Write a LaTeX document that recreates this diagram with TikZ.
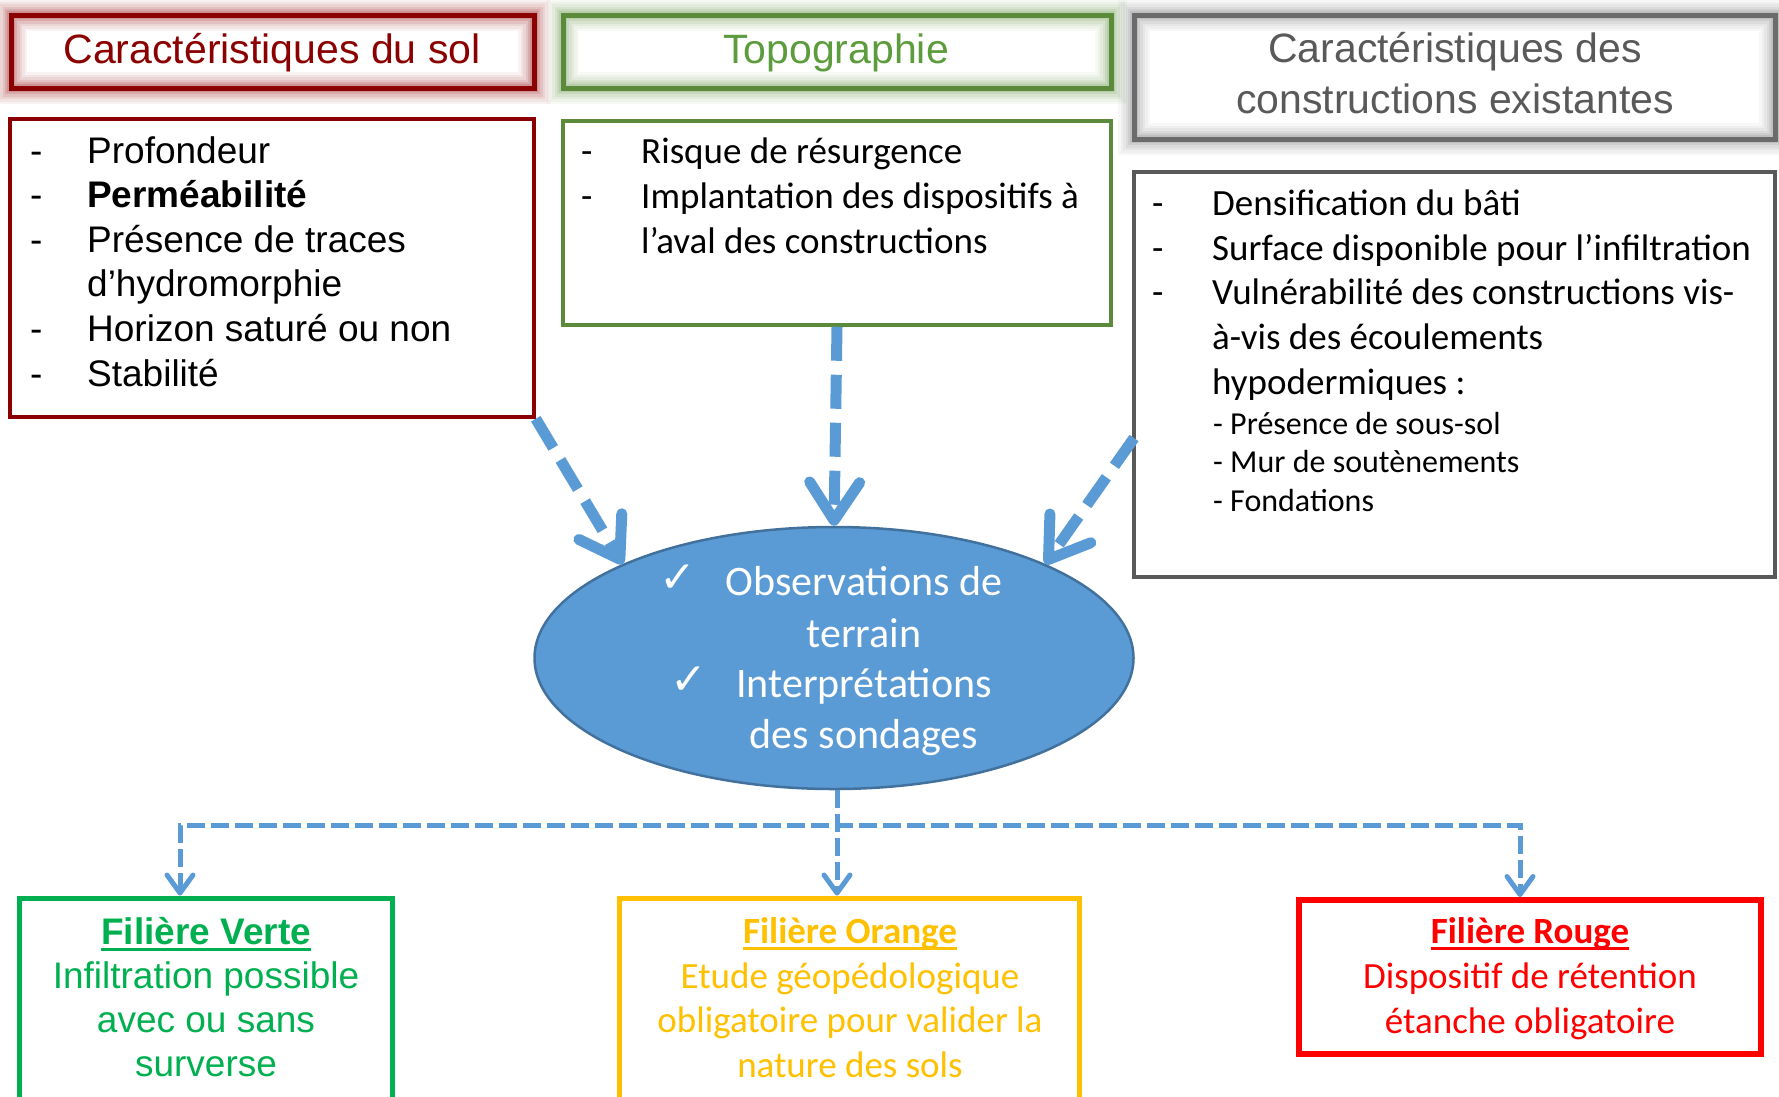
\documentclass[tikz,border=0pt]{standalone}
\usepackage{fontspec}
\setmainfont{Carlito}
\newfontfamily\arial{Liberation Sans}
\newfontfamily\dejavu{DejaVu Sans}
\usetikzlibrary{shapes.geometric,arrows.meta}
\definecolor{soilred}{HTML}{8B0000}
\definecolor{topogreen}{HTML}{5A8A3A}
\definecolor{topotext}{HTML}{5C9C3C}
\definecolor{constgray}{HTML}{6B6B6B}
\definecolor{consttext}{HTML}{595959}
\definecolor{bodygray}{HTML}{595959}
\definecolor{ellfill}{HTML}{5B9BD5}
\definecolor{elldraw}{HTML}{41719C}
\definecolor{arrowc}{HTML}{5B9BD5}
\definecolor{vertc}{HTML}{00B050}
\definecolor{orangec}{HTML}{FFC000}
\definecolor{rougec}{HTML}{FF0000}
\newcommand\myul[1]{\setbox0\hbox{#1}\makebox[0pt][l]{\rule[-6.5pt]{\wd0}{3pt}}\box0}
\begin{document}
\begin{tikzpicture}[x=1pt,y=-1pt,
  hdrbox/.style={rectangle, draw=#1, line width=5pt, inner sep=0pt,
    preaction={draw=#1, line width=32pt, opacity=0.05},
    preaction={draw=#1, line width=27pt, opacity=0.06},
    preaction={draw=#1, line width=22pt, opacity=0.07},
    preaction={draw=#1, line width=17pt, opacity=0.09},
    preaction={draw=#1, line width=12pt, opacity=0.12},
    preaction={draw=#1, line width=8pt, opacity=0.15}},
  bodybox/.style={rectangle, draw=#1, line width=3.5pt, inner sep=0pt},
  filbox/.style={rectangle, draw=#1, line width=5pt, inner sep=0pt},
  htxt/.style={inner sep=0pt, anchor=base, font=\arial\fontsize{41pt}{49pt}\selectfont},
  atxt/.style={inner sep=0pt, anchor=base west, font=\arial\fontsize{37pt}{44pt}\selectfont},
  ctxt/.style={inner sep=0pt, anchor=base west, font=\fontsize{37pt}{44pt}\selectfont},
  csub/.style={inner sep=0pt, anchor=base west, font=\fontsize{32pt}{38pt}\selectfont},
  etxt/.style={inner sep=0pt, anchor=base, text=white, font=\fontsize{42pt}{50pt}\selectfont},
  chk/.style={inner sep=0pt, anchor=base east, text=white, font=\dejavu\fontsize{44pt}{50pt}\selectfont},
  ftxt/.style={inner sep=0pt, anchor=base, font=\fontsize{37pt}{44pt}\selectfont},
  fatxt/.style={inner sep=0pt, anchor=base, font=\arial\fontsize{37pt}{44pt}\selectfont},
  bigarrow/.style={draw=arrowc, line width=11pt, dash pattern=on 34pt off 14pt,
    -{Straight Barb[length=38pt,width=50pt,round]}},
  conn/.style={draw=arrowc, line width=5pt, dash pattern=on 18pt off 6pt}
]
\useasboundingbox (0,0) rectangle (1779,1096);

% header boxes
\node[hdrbox=soilred, minimum width=523pt, minimum height=73pt] (h1) at (272.5,51.5) {};
\node[hdrbox=topogreen, minimum width=548pt, minimum height=73pt] (h2) at (837,51.5) {};
\node[hdrbox=constgray, minimum width=641pt, minimum height=124pt] (h3) at (1454.5,77) {};
\node[htxt, text=soilred] (h1t) at (272,63) {Caractéristiques du sol};
\node[htxt, text=topotext] (h2t) at (836,63) {Topographie};
\node[htxt, text=consttext] (h3ta) at (1455,62) {Caractéristiques des};
\node[htxt, text=consttext] (h3tb) at (1455,113) {constructions existantes};

% body boxes
\node[bodybox=soilred, minimum width=524pt, minimum height=298pt] (b1) at (272,268) {};
\node[bodybox=topogreen, minimum width=548pt, minimum height=204pt] (b2) at (837,223) {};
\node[bodybox=bodygray, minimum width=641pt, minimum height=405pt] (b3) at (1454.5,374.5) {};

% body 1 text
\node[atxt] (d11) at (30,163) {-};
\node[atxt] (t11) at (87,163) {Profondeur};
\node[atxt] (d12) at (30,207.6) {-};
\node[atxt, font=\arial\bfseries\fontsize{37pt}{44pt}\selectfont] (t12) at (87,207.6) {Perméabilité};
\node[atxt] (d13) at (30,252) {-};
\node[atxt] (t13) at (87,252) {Présence de traces};
\node[atxt] (t14) at (87,296.8) {d’hydromorphie};
\node[atxt] (d15) at (30,341.4) {-};
\node[atxt] (t15) at (87,341.4) {Horizon saturé ou non};
\node[atxt] (d16) at (30,386) {-};
\node[atxt] (t16) at (87,386) {Stabilité};

% body 2 text
\node[ctxt] (d21) at (581,163) {-};
\node[ctxt] (t21) at (641,163) {Risque de résurgence};
\node[ctxt] (d22) at (581,208) {-};
\node[ctxt] (t22) at (641,208) {Implantation des dispositifs à};
\node[ctxt] (t23) at (641,253) {l’aval des constructions};

% body 3 text
\node[ctxt] (d31) at (1152,215) {-};
\node[ctxt] (t31) at (1212,215) {Densification du bâti};
\node[ctxt] (d32) at (1152,260) {-};
\node[ctxt] (t32) at (1212,260) {Surface disponible pour l’infiltration};
\node[ctxt] (d33) at (1152,304.5) {-};
\node[ctxt] (t33) at (1212,304.5) {Vulnérabilité des constructions vis-};
\node[ctxt] (t34) at (1212,349) {à-vis des écoulements};
\node[ctxt] (t35) at (1212,394) {hypodermiques :};
\node[csub] (s31) at (1213,434) {- Présence de sous-sol};
\node[csub] (s32) at (1213,472.5) {- Mur de soutènements};
\node[csub] (s33) at (1213,511) {- Fondations};

% ellipse
\node[ellipse, draw=elldraw, fill=ellfill, line width=2.5pt, inner sep=0pt,
  minimum width=599pt, minimum height=262pt] (ell) at (834,658) {};
\node[etxt] (e1) at (864,595) {Observations de};
\node[etxt] (e2) at (864,647) {terrain};
\node[etxt] (e3) at (864,697) {Interprétations};
\node[etxt] (e4) at (864,748) {des sondages};
\node[chk] (k1) at (697,592) {✓};
\node[chk] (k2) at (708,694) {✓};

% top arrows
\coordinate (a3s) at (1134,438);
\draw[bigarrow] (b1.south east) -- (ell.156);
\draw[bigarrow] (b2.south) -- (ell.north);
\draw[bigarrow] (a3s) -- (ell.24);

% bottom boxes
\node[filbox=vertc, minimum width=373pt, minimum height=222pt] (bv) at (206,1009) {};
\node[filbox=orangec, minimum width=460pt, minimum height=222pt] (bo) at (849.5,1009) {};
\node[filbox=rougec, line width=6pt, minimum width=462pt, minimum height=154pt] (br) at (1530,977) {};

\node[fatxt, text=vertc, font=\arial\bfseries\fontsize{37pt}{44pt}\selectfont] (v1) at (206,944) {\myul{Filière Verte}};
\node[fatxt, text=vertc] (v2) at (206,988.5) {Infiltration possible};
\node[fatxt, text=vertc] (v3) at (206,1032) {avec ou sans};
\node[fatxt, text=vertc] (v4) at (206,1076) {surverse};

\node[ftxt, text=orangec, font=\bfseries\fontsize{37pt}{44pt}\selectfont] (o1) at (850,943) {\myul{Filière Orange}};
\node[ftxt, text=orangec] (o2) at (850,988) {Etude géopédologique};
\node[ftxt, text=orangec] (o3) at (850,1032.5) {obligatoire pour valider la};
\node[ftxt, text=orangec] (o4) at (850,1077) {nature des sols};

\node[ftxt, text=rougec, font=\bfseries\fontsize{37pt}{44pt}\selectfont] (r1) at (1530,943) {\myul{Filière Rouge}};
\node[ftxt, text=rougec] (r2) at (1530,988) {Dispositif de rétention};
\node[ftxt, text=rougec] (r3) at (1530,1033) {étanche obligatoire};

% bottom connectors
\coordinate (jl) at (180,825);
\coordinate (jr) at (1520,825);
\coordinate (jm) at (837,0);
\draw[conn, {Straight Barb[length=18pt,width=26pt,round]}-{Straight Barb[length=18pt,width=26pt,round]}]
  (jl |- bv.north) -- (jl) -- (jr) -- (jr |- br.north);
\draw[conn, -{Straight Barb[length=18pt,width=26pt,round]}] (jm |- ell.south) -- (jm |- bo.north);
\end{tikzpicture}
\end{document}
